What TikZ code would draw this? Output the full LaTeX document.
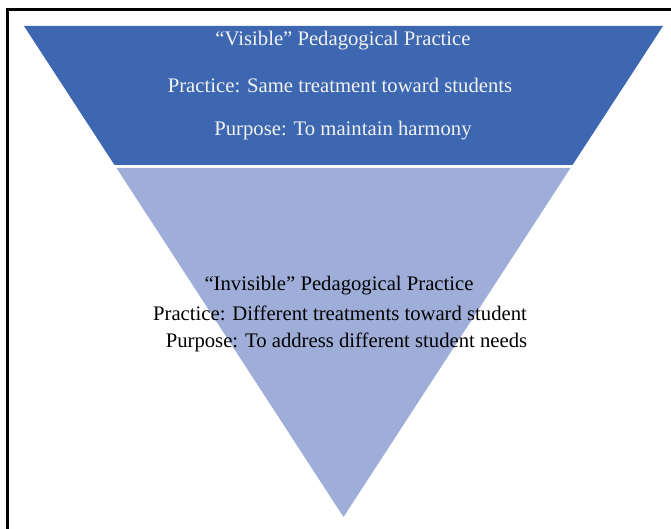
\documentclass[tikz,border=0pt]{standalone}
\usepackage{fontspec}
\setmainfont{Liberation Serif}
\definecolor{topblue}{RGB}{61,103,177}
\definecolor{lowblue}{RGB}{158,174,216}

\begin{document}
\begin{tikzpicture}[x=1pt, y=-1pt,
                    every node/.style={inner sep=0pt, font=\fontsize{20.7}{23}\selectfont},
                    toptext/.style={text=white!95!black},
                    lowtext/.style={text=black}]
                    \useasboundingbox (0,0) rectangle (671,529);
                    % frame
                    \draw[line width=3pt] (7,529) -- (7,10) -- (671,10);
                    % upper band
                    \coordinate (t1) at (24,26);
                    \coordinate (t2) at (663,26);
                    \coordinate (t3) at (572.5,165);
                    \coordinate (t4) at (114.5,165);
                    \fill[topblue] (t1) -- (t2) -- (t3) -- (t4) -- cycle;
                    % lower triangle
                    \coordinate (b1) at (116.5,168);
                    \coordinate (b2) at (570.5,168);
                    \coordinate (b3) at (343.5,517);
                    \fill[lowblue] (b1) -- (b2) -- (b3) -- cycle;
                    % labels
                    \node[toptext] (vis) at (343,41) {``Visible'' Pedagogical Practice};
                    \node[toptext] (vispractice) at (340,85.5) {Practice: Same treatment toward students};
                    \node[toptext] (vispurpose) at (343,130.5) {Purpose: To maintain harmony};
                    \node[lowtext] (invis) at (339,285.5) {``Invisible'' Pedagogical Practice};
                    \node[lowtext] (invispractice) at (340,313.5) {Practice: Different treatments toward student};
                    \node[lowtext] (invispurpose) at (346.5,342.5) {Purpose: To address different student needs};
                \end{tikzpicture}
\end{document}
